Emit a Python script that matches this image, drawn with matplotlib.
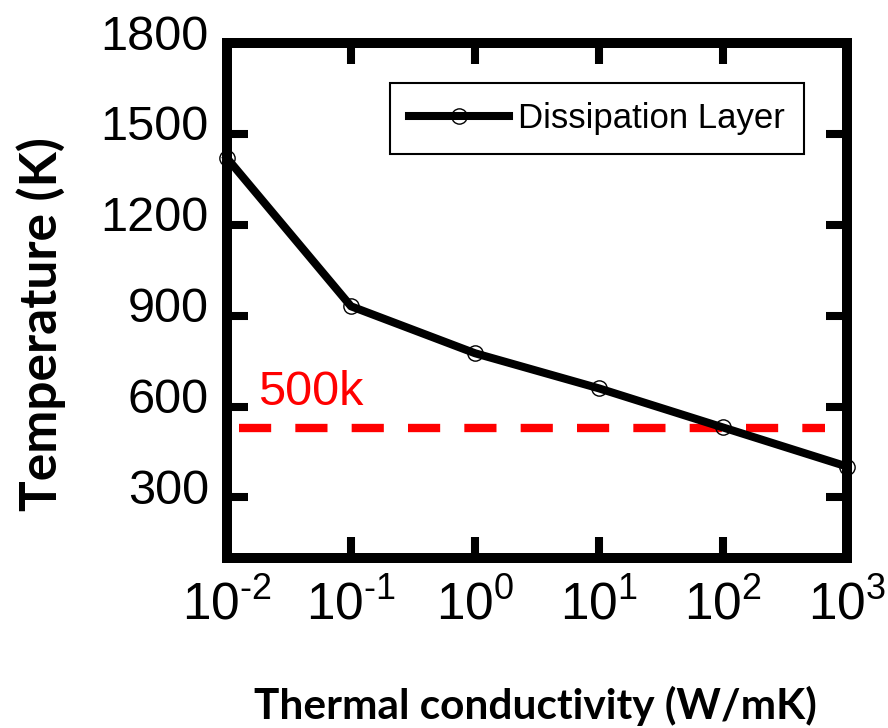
"""
Temperature vs thermal conductivity of the dissipation layer
"""
import matplotlib
matplotlib.use('Agg')
import matplotlib.pyplot as plt
import matplotlib.transforms as mtransforms

# font settings
plt.rcParams['font.family'] = ['Liberation Sans', 'DejaVu Sans']
plt.rcParams['mathtext.fontset'] = 'custom'
plt.rcParams['mathtext.rm'] = 'Liberation Sans'
plt.rcParams['mathtext.it'] = 'Liberation Sans'

# data
conductivity = [1e-2, 1e-1, 1e0, 1e1, 1e2, 1e3]
temperature = [1420, 931, 776, 660, 531, 402]
series_name = 'Dissipation Layer'

limit_value = 530
limit_label = '500k'
limit_span = [10 ** -1.9, 10 ** 2.82]

x_ticks = conductivity
x_tick_labels = [r'$10^{\text{-}2}$', r'$10^{\text{-}1}$', '$10^{0}$',
                 '$10^{1}$', '$10^{2}$', '$10^{3}$']
y_ticks = [300, 600, 900, 1200, 1500, 1800]

fig = plt.figure(figsize=(8.88, 7.28), dpi=100)
ax = fig.add_axes([0.2556, 0.2335, 0.6982, 0.7074])

# main curve
ax.plot(conductivity, temperature, color='black', linewidth=5.8,
        marker='o', markersize=11, markerfacecolor='none',
        markeredgecolor='black', markeredgewidth=1.0,
        label=series_name, zorder=3, clip_on=False)

# 500k limit line
ax.plot(limit_span, [limit_value, limit_value], color='red', linewidth=6,
        linestyle=(0, (3.86, 2.9)), dash_capstyle='butt', zorder=2)
ax.text(10 ** -1.75, 604, limit_label, color='red', fontsize=35,
        va='baseline', ha='left')

ax.set_xscale('log')
ax.set_xlim(1e-2, 1e3)
ax.set_ylim(100, 1800)
ax.set_xticks(x_ticks)
ax.set_xticklabels(x_tick_labels)
ax.minorticks_off()
ax.set_yticks(y_ticks)

for sp in ax.spines.values():
    sp.set_linewidth(7.2)
    sp.set_zorder(4)

ax.tick_params(axis='both', which='major', direction='in', length=15,
               width=5.8, top=True, right=True, color='black')
ax.tick_params(axis='y', labelsize=35, pad=13)
ax.tick_params(axis='x', labelsize=37, pad=16)

# y tick labels sit a bit above the ticks in the original
shift = mtransforms.ScaledTranslation(0, 0.11, fig.dpi_scale_trans)
for lab in ax.get_yticklabels():
    lab.set_transform(lab.get_transform() + shift)

ax.set_xlabel('Thermal conductivity (W/mK)', fontsize=30.5,
              fontweight='bold', family='Lato')
ax.xaxis.set_label_coords(0.497, -0.248)
ax.xaxis.label.set_va('top')
ax.set_ylabel('Temperature (K)', fontsize=37, fontweight='bold',
              family='Lato')
ax.yaxis.set_label_coords(-0.26, 0.454)

leg = ax.legend(loc='upper right', bbox_to_anchor=(0.9306, 0.9223),
                borderaxespad=0, fontsize=25, frameon=True, fancybox=False,
                edgecolor='black', framealpha=1, handlelength=2.9,
                handletextpad=0.25, borderpad=0.55)
leg.get_frame().set_linewidth(1.5)

fig.savefig('out.png', dpi=100, facecolor='white')
